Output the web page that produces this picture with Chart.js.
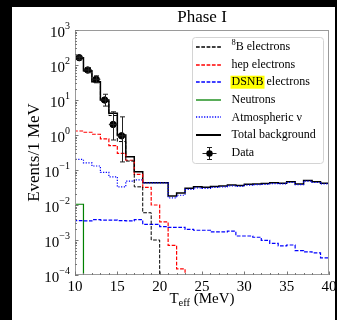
<!DOCTYPE html>
<html>
<head>
<meta charset="utf-8">
<script src="https://cdn.jsdelivr.net/npm/chart.js@4/dist/chart.umd.min.js"></script>
<style>
  html, body { margin: 0; padding: 0; width: 337px; height: 320px; background: #000; overflow: hidden; }
  #wrap { position: absolute; left: 12px; top: 7px; width: 323px; height: 313px; background: #fff; }
  canvas { display: block; }
</style>
</head>
<body>
<div id="wrap"><canvas id="chart" width="323" height="313"></canvas></div>
<script>
// Histogram bin edges, T_eff in MeV (1 MeV bins)
const binEdges = [10, 11, 12, 13, 14, 15, 16, 17, 18, 19, 20, 21, 22, 23, 24, 25,
                  26, 27, 28, 29, 30, 31, 32, 33, 34, 35, 36, 37, 38, 39, 40];

// Events per 1 MeV bin, starting at the 10 MeV bin
const b8Electrons = [158, 67, 32, 9.3, 3.6, 0.65, 0.18, 0.033, 0.006, 0.001];
const hepElectrons = [1.3, 1.2, 1.05, 0.78, 0.50, 0.30, 0.19, 0.075, 0.032, 0.010,
                      0.0033, 0.0007, 0.00015];
const dsnbElectrons = [0.0036, 0.0035, 0.0038, 0.0037, 0.0037, 0.0036, 0.0035, 0.0038, 0.0028, 0.0028,
                       0.0024, 0.0023, 0.0023, 0.0020, 0.0019, 0.0019, 0.0017, 0.0017, 0.0018, 0.0013,
                       0.0013, 0.0012, 0.00098, 0.00080, 0.00068, 0.00072, 0.00050, 0.00046, 0.00043, 0.00031];
const neutrons = [0.0105];
const atmosphericNu = [0.20, 0.16, 0.13, 0.085, 0.064, 0.033, 0.048, 0.052, 0.043, 0.043,
                       0.043, 0.016, 0.019, 0.028, 0.031, 0.030, 0.032, 0.033, 0.035, 0.034,
                       0.037, 0.038, 0.039, 0.041, 0.040, 0.044, 0.038, 0.048, 0.044, 0.040];
const totalBackground = [160, 68, 33, 10, 4.2, 1.0, 0.24, 0.089, 0.043, 0.043,
                         0.043, 0.018, 0.022, 0.030, 0.033, 0.032, 0.034, 0.035, 0.037, 0.036,
                         0.039, 0.040, 0.041, 0.043, 0.042, 0.046, 0.040, 0.050, 0.046, 0.042];

// Measured data with asymmetric error bars
const dataCenters = [10.5, 11.5, 12.5, 13.5, 14.5, 15.5];
const dataValues  = [162, 72, 39, 10, 2.0, 0.95];
const dataLow     = [145, 60, 31, 6.7, 0.72, 0.17];
const dataHigh    = [180, 84, 49, 14.6, 4.6, 3.3];

// Axis ticks
const xTickValues = [10, 15, 20, 25, 30, 35, 40];
const yTickExponents = [-4, -3, -2, -1, 0, 1, 2, 3];
const Y_MIN = 1e-4, Y_MAX = 1e3;

const FONT = '"Liberation Serif", "Times New Roman", Times, serif';

// Line styles
const BLACK = '#000000', RED = '#ff0000', BLUE = '#0000ff', GREEN = '#008000';
const DASH = [3.7, 1.6];
const DOT = [1.2, 1.5];

// Turn per-bin contents into an outline that starts and ends on the axis floor
function stepOutline(values) {
  const pts = [{ x: binEdges[0], y: Y_MIN }];
  values.forEach((v, i) => pts.push({ x: binEdges[i], y: v }));
  pts.push({ x: binEdges[values.length], y: Y_MIN });
  return pts;
}

function histSet(label, values, color, dash, width) {
  return {
    label, data: stepOutline(values), borderColor: color, borderWidth: width,
    borderDash: dash, stepped: 'before', pointRadius: 0, fill: false,
    borderCapStyle: 'butt', borderJoinStyle: 'miter',
    legendStyle: { color, dash, width: width > 1.4 ? 2 : 1.3 }
  };
}

const datasets = [
  histSet('8B electrons', b8Electrons, BLACK, DASH, 1),
  histSet('hep electrons', hepElectrons, RED, DASH, 1.2),
  histSet('DSNB electrons', dsnbElectrons, BLUE, DASH, 1.2),
  histSet('Neutrons', neutrons, GREEN, [], 1.2),
  histSet('Atmospheric ν', atmosphericNu, BLUE, DOT, 1.2),
  histSet('Total background', totalBackground, BLACK, [], 1.5),
  {
    label: 'Data', type: 'scatter',
    data: dataCenters.map((c, i) => ({ x: c, y: dataValues[i] })),
    pointRadius: 3.2, pointBackgroundColor: BLACK, pointBorderColor: BLACK, showLine: false
  }
];

// Error bars for the data points
const errorBars = {
  id: 'errorBars',
  afterDatasetsDraw(chart) {
    const { ctx, scales: { x, y } } = chart;
    ctx.save();
    ctx.strokeStyle = '#222';
    ctx.lineWidth = 1;
    dataCenters.forEach((c, i) => {
      const px = Math.round(x.getPixelForValue(c)) + 0.5;
      const py = y.getPixelForValue(dataValues[i]);
      const yl = y.getPixelForValue(dataLow[i]);
      const yh = y.getPixelForValue(dataHigh[i]);
      const xl = x.getPixelForValue(c - 0.5), xr = x.getPixelForValue(c + 0.5);
      ctx.beginPath();
      ctx.moveTo(px, yl); ctx.lineTo(px, yh);
      ctx.moveTo(px - 2.5, yl); ctx.lineTo(px + 2.5, yl);
      ctx.moveTo(px - 2.5, yh); ctx.lineTo(px + 2.5, yh);
      ctx.moveTo(xl, py); ctx.lineTo(xr, py);
      ctx.stroke();
    });
    ctx.restore();
  }
};

function drawSup(ctx, base, sup, xRight, yMid, baseSize, supSize) {
  ctx.font = supSize + 'px ' + FONT;
  const sw = ctx.measureText(sup).width;
  ctx.font = baseSize + 'px ' + FONT;
  const bw = ctx.measureText(base).width;
  ctx.textBaseline = 'alphabetic';
  ctx.textAlign = 'left';
  ctx.fillText(base, xRight - sw - bw, yMid + 7);
  ctx.font = supSize + 'px ' + FONT;
  ctx.fillText(sup, xRight - sw, yMid - 1);
}

// Frame, inward ticks, tick labels, titles and legend
const decor = {
  id: 'decor',
  afterDraw(chart) {
    const { ctx, chartArea: a, scales: { x, y } } = chart;
    ctx.save();
    ctx.fillStyle = BLACK;

    // frame
    ctx.strokeStyle = '#9a9a9a';
    ctx.lineWidth = 1;
    ctx.strokeRect(a.left + 0.5, a.top + 0.5, a.right - a.left - 1, a.bottom - a.top - 1);

    // x ticks
    ctx.strokeStyle = '#777';
    ctx.beginPath();
    for (let v = binEdges[0]; v <= binEdges[binEdges.length - 1]; v++) {
      const px = Math.round(x.getPixelForValue(v)) + 0.5;
      const len = xTickValues.includes(v) ? 3.5 : 2;
      ctx.moveTo(px, a.bottom); ctx.lineTo(px, a.bottom - len);
    }
    // y ticks
    yTickExponents.forEach((e, k) => {
      const py = Math.round(y.getPixelForValue(Math.pow(10, e))) + 0.5;
      ctx.moveTo(a.left, py); ctx.lineTo(a.left + 3.5, py);
      if (k < yTickExponents.length - 1) {
        for (let m = 2; m <= 9; m++) {
          const pm = Math.round(y.getPixelForValue(m * Math.pow(10, e))) + 0.5;
          ctx.moveTo(a.left, pm); ctx.lineTo(a.left + 2, pm);
        }
      }
    });
    ctx.stroke();

    // x tick labels
    ctx.font = '15px ' + FONT;
    ctx.textAlign = 'center';
    ctx.textBaseline = 'top';
    xTickValues.forEach(v => ctx.fillText(String(v), x.getPixelForValue(v), a.bottom + 5));

    // y tick labels
    yTickExponents.forEach(e => {
      const py = y.getPixelForValue(Math.pow(10, e));
      drawSup(ctx, '10', e < 0 ? '\u2212' + (-e) : String(e), a.left - 5, py, 15, 10);
    });

    // axis titles
    ctx.textBaseline = 'alphabetic';
    ctx.textAlign = 'left';
    const cx = (a.left + a.right) / 2;
    ctx.font = '15px ' + FONT;
    const wT = ctx.measureText('T').width;
    const wP = ctx.measureText(' (MeV)').width;
    ctx.font = '10.5px ' + FONT;
    const wE = ctx.measureText('eff').width;
    let xs = cx - (wT + wE + wP) / 2;
    const by = a.bottom + 28;
    ctx.font = '15px ' + FONT;
    ctx.fillText('T', xs, by);
    ctx.font = '10.5px ' + FONT;
    ctx.fillText('eff', xs + wT, by + 3);
    ctx.font = '15px ' + FONT;
    ctx.fillText(' (MeV)', xs + wT + wE, by);

    ctx.save();
    ctx.translate(27, (a.top + a.bottom) / 2);
    ctx.rotate(-Math.PI / 2);
    ctx.textAlign = 'center';
    ctx.font = '17px ' + FONT;
    ctx.fillText('Events/1 MeV', 0, 0);
    ctx.restore();

    // title
    ctx.textAlign = 'center';
    ctx.font = '17px ' + FONT;
    ctx.fillText('Phase I', cx, a.top - 8);

    // legend box
    const L = { x: 180, y: 30, w: 131, h: 126, r: 3 };
    ctx.fillStyle = 'rgba(255,255,255,0.85)';
    ctx.strokeStyle = '#d4d4d4';
    ctx.lineWidth = 1;
    ctx.beginPath();
    ctx.roundRect(L.x + 0.5, L.y + 0.5, L.w, L.h, L.r);
    ctx.fill();
    ctx.stroke();

    // legend entries
    const rowY0 = 40, rowDy = 17.6;
    const sx0 = 184, sx1 = 209, tx = 219.5;
    datasets.forEach((ds, i) => {
      const ry = rowY0 + i * rowDy;
      const ly = Math.round(ry) + 0.5;
      ctx.save();
      if (ds.legendStyle) {
        const st = ds.legendStyle;
        ctx.strokeStyle = st.color;
        ctx.lineWidth = st.width;
        ctx.setLineDash(st.dash);
        ctx.beginPath();
        ctx.moveTo(sx0, ly - 0.5);
        ctx.lineTo(sx1, ly - 0.5);
        ctx.stroke();
      } else {
        const mx = Math.round((sx0 + sx1) / 2) + 0.5;
        ctx.strokeStyle = '#222';
        ctx.lineWidth = 1;
        ctx.beginPath();
        ctx.moveTo(mx - 7, ly); ctx.lineTo(mx + 7, ly);
        ctx.moveTo(mx, ly - 6); ctx.lineTo(mx, ly + 6);
        ctx.moveTo(mx - 2.5, ly - 6); ctx.lineTo(mx + 2.5, ly - 6);
        ctx.moveTo(mx - 2.5, ly + 6); ctx.lineTo(mx + 2.5, ly + 6);
        ctx.stroke();
        ctx.fillStyle = BLACK;
        ctx.beginPath();
        ctx.arc(mx, ly, 3.2, 0, Math.PI * 2);
        ctx.fill();
      }
      ctx.restore();

      ctx.save();
      ctx.textBaseline = 'middle';
      ctx.textAlign = 'left';
      ctx.fillStyle = BLACK;
      ctx.font = '12px ' + FONT;
      if (ds.label.startsWith('8B')) {
        ctx.font = '8.5px ' + FONT;
        ctx.fillText('8', tx, ry - 4);
        const w8 = ctx.measureText('8').width;
        ctx.font = '12px ' + FONT;
        ctx.fillText(ds.label.slice(1), tx + w8, ry);
      } else if (ds.label.startsWith('DSNB')) {
        const wd = ctx.measureText('DSNB').width;
        ctx.fillStyle = '#ffff00';
        ctx.fillRect(tx - 1, ry - 6.5, wd + 2, 13);
        ctx.fillStyle = BLACK;
        ctx.fillText(ds.label, tx, ry);
      } else {
        ctx.fillText(ds.label, tx, ry);
      }
      ctx.restore();
    });
    ctx.restore();
  }
};

new Chart(document.getElementById('chart'), {
  type: 'line',
  data: { datasets },
  options: {
    responsive: false,
    animation: false,
    devicePixelRatio: 1,
    layout: { padding: { left: 63, right: 6, top: 23, bottom: 45 } },
    plugins: { legend: { display: false }, tooltip: { enabled: false }, title: { display: false } },
    scales: {
      x: { type: 'linear', min: 10, max: 40, display: false },
      y: { type: 'logarithmic', min: Y_MIN, max: Y_MAX, display: false }
    }
  },
  plugins: [errorBars, decor]
});
</script>
</body>
</html>
